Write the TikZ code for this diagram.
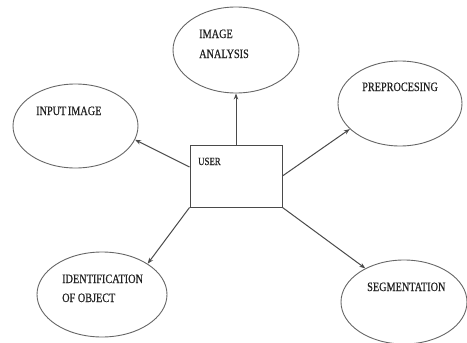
\documentclass[tikz,border=0pt]{standalone}
\usepackage{fontspec}
\setmainfont{Liberation Serif}
\newfontfamily\lblfont[FakeStretch=0.8,FakeBold=0.6]{Liberation Serif}
\usetikzlibrary{shapes.geometric,arrows.meta}
\definecolor{edgegray}{HTML}{4A4A4A}
\definecolor{ellgray}{HTML}{666666}
\definecolor{txtgray}{HTML}{222222}
\tikzset{
  oval/.style={ellipse, draw=ellgray, line width=0.9pt, inner sep=0pt},
  userbox/.style={rectangle, draw=edgegray, line width=0.9pt, inner sep=0pt, minimum width=92pt, minimum height=62pt},
  lbl/.style={anchor=base west, inner sep=0pt, text=txtgray, font=\lblfont\fontsize{12.8}{14}\selectfont},
  ulbl/.style={anchor=base west, inner sep=0pt, text=txtgray, font=\lblfont\fontsize{11}{13}\selectfont},
  arr/.style={draw=edgegray, line width=1pt, -{Stealth[length=6pt,width=4.5pt]}}
}
\begin{document}
\begin{tikzpicture}[x=1pt,y=-1pt]
\useasboundingbox (0,0) rectangle (467,343);
% user box
\node[userbox] (user) at (236,176) {};
\node[ulbl] (tuser) at (198,165) {USER};
% ellipses
\node[oval, minimum width=126pt, minimum height=86pt] (analysis) at (236,50) {};
\node[oval, minimum width=125pt, minimum height=84pt] (input) at (75.5,126) {};
\node[oval, minimum width=124pt, minimum height=85pt] (preproc) at (400,103.5) {};
\node[oval, minimum width=130pt, minimum height=85pt] (ident) at (102,294.5) {};
\node[oval, minimum width=126pt, minimum height=84pt] (seg) at (404,302) {};
% labels
\node[lbl] (t1) at (199,38) {IMAGE};
\node[lbl] (t2) at (199,58) {ANALYSIS};
\node[lbl] (t3) at (36,115) {INPUT\hspace{1.5pt}IMAGE};
\node[lbl] (t4) at (362,91) {PREPROCESING};
\node[lbl] (t5) at (62,283) {IDENTIFICATION};
\node[lbl] (t6) at (62,302) {OF OBJECT};
\node[lbl] (t7) at (367,291) {SEGMENTATION};
% connectors
\draw[arr] (user.north) -- (analysis.south);
\draw[arr] (user.169) -- (input.-13);
\draw[arr] (user.east) -- (preproc.207);
\draw[arr] (user.south west) -- (ident.34);
\draw[arr] (user.south east) -- (seg.139);
\end{tikzpicture}
\end{document}
